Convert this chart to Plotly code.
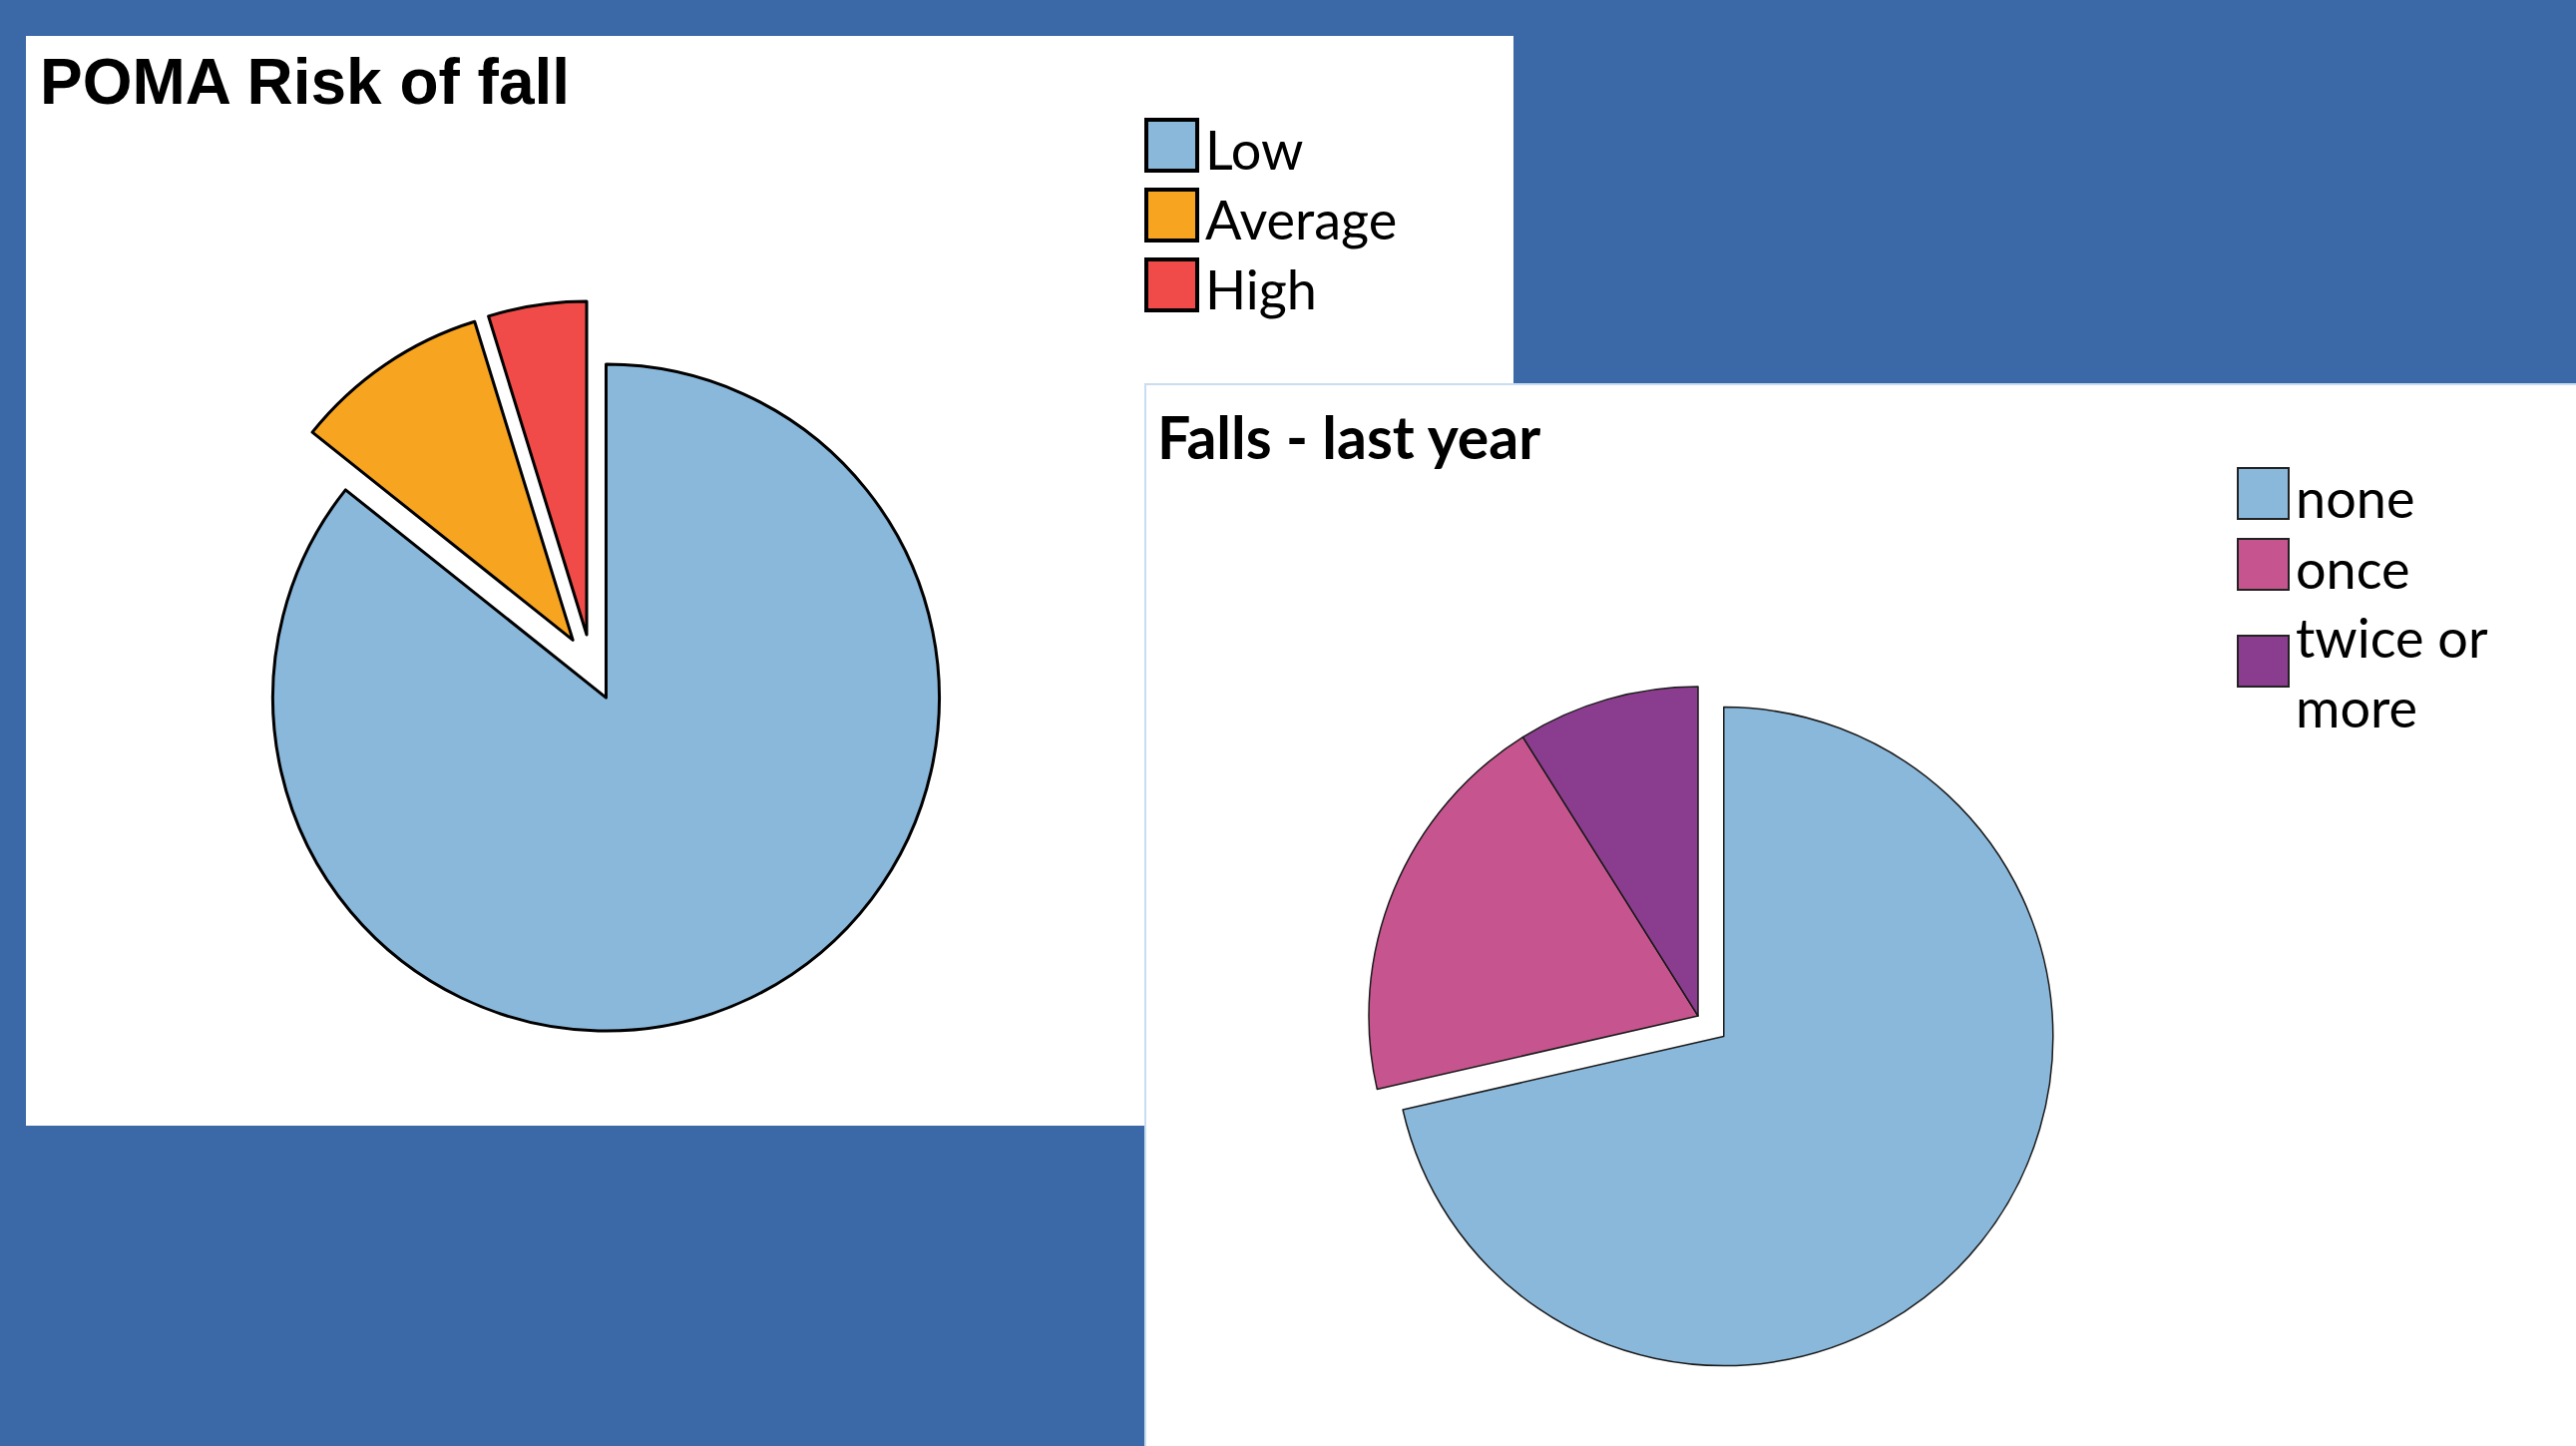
import plotly.graph_objects as go

# ---------------- data ----------------
RISK_LABELS = ["Low", "Average", "High"]
RISK_VALUES = [54, 6, 3]
RISK_PULL = [0.1, 0.1, 0.1]
RISK_COLORS = ["#8AB8DB", "#F7A520", "#F04B48"]

FALLS_LABELS = ["none", "once", "twice or more"]
FALLS_LEGEND_TEXT = [["none"], ["once"], ["twice or", "more"]]
FALLS_VALUES = [40, 11, 5]
FALLS_PULL = [0.1, 0, 0]
FALLS_COLORS = ["#8AB8DB", "#C6548E", "#8A3D8E"]

TITLE_1 = "POMA Risk of fall"
TITLE_2 = "Falls - last year"

# ---------------- layout helpers ----------------
W, H = 2582, 1449
BG = "#3B69A7"


def px(x):
    return x / W


def py(y):
    return 1 - y / H


def pie_domain(cx, cy, r, pull):
    half = r * (1 + max(pull))
    return dict(x=[px(cx - half), px(cx + half)], y=[py(cy + half), py(cy - half)])


fig = go.Figure()

fig.add_trace(go.Pie(
    labels=RISK_LABELS, values=RISK_VALUES, pull=RISK_PULL,
    marker=dict(colors=RISK_COLORS, line=dict(color="#000000", width=3)),
    sort=False, direction="clockwise", rotation=0,
    textinfo="none", showlegend=False,
    domain=pie_domain(593, 669, 334, RISK_PULL),
))

fig.add_trace(go.Pie(
    labels=FALLS_LABELS, values=FALLS_VALUES, pull=FALLS_PULL,
    marker=dict(colors=FALLS_COLORS, line=dict(color="#1a1a1a", width=1.5)),
    sort=False, direction="clockwise", rotation=0,
    textinfo="none", showlegend=False,
    domain=pie_domain(1702, 1018, 330, FALLS_PULL),
))

shapes = [
    # panel 1
    dict(type="rect", xref="paper", yref="paper", x0=px(26), x1=px(1517), y0=py(1128), y1=py(36),
         fillcolor="white", line=dict(width=0), layer="below"),
    # panel 2
    dict(type="rect", xref="paper", yref="paper", x0=px(1148), x1=px(2590), y0=py(1460), y1=py(385),
         fillcolor="white", line=dict(width=2, color="#C9DDF0"), layer="below"),
]
annotations = [
    dict(text="<b>" + TITLE_1 + "</b>", xref="paper", yref="paper", x=px(38), y=py(82),
         xanchor="left", yanchor="middle", showarrow=False,
         font=dict(family="Liberation Sans, Arial", size=64, color="black")),
    dict(text="<b>" + TITLE_2 + "</b>", xref="paper", yref="paper", x=px(1158), y=py(437),
         xanchor="left", yanchor="middle", showarrow=False,
         font=dict(family="Lato, Open Sans", size=59, color="black")),
]

LEG_FONT = dict(family="Lato, Open Sans", size=54, color="black")
BOX = 51

# legend 1
for i, (lab, col) in enumerate(zip(RISK_LABELS, RISK_COLORS)):
    top = 120 + i * 70
    shapes.append(dict(type="rect", xref="paper", yref="paper",
                       x0=px(1149), x1=px(1149 + BOX), y0=py(top + BOX), y1=py(top),
                       fillcolor=col, line=dict(color="black", width=4)))
    annotations.append(dict(text=lab, xref="paper", yref="paper", x=px(1206), y=py(top + BOX / 2 + 4),
                            xanchor="left", yanchor="middle", showarrow=False, font=LEG_FONT))

# legend 2
tops2 = [469, 540, 637]
for i, (lines, col) in enumerate(zip(FALLS_LEGEND_TEXT, FALLS_COLORS)):
    top = tops2[i]
    shapes.append(dict(type="rect", xref="paper", yref="paper",
                       x0=px(2243), x1=px(2243 + BOX), y0=py(top + BOX), y1=py(top),
                       fillcolor=col, line=dict(color="#222222", width=2)))
    if len(lines) == 1:
        yc = top + BOX / 2 + 4
    else:
        yc = top + 8 + (len(lines) - 1) * 29
    annotations.append(dict(text="<br>".join(lines), xref="paper", yref="paper", x=px(2299), y=py(yc),
                            xanchor="left", yanchor="middle", align="left", showarrow=False, font=LEG_FONT))

fig.update_layout(
    width=W, height=H,
    margin=dict(l=0, r=0, t=0, b=0),
    paper_bgcolor=BG, plot_bgcolor=BG,
    shapes=shapes, annotations=annotations,
    showlegend=False,
)

fig.write_html(
    "out.html",
    config=dict(displayModeBar=False),
    post_script="document.body.style.margin='0';document.body.style.overflow='hidden';",
)
